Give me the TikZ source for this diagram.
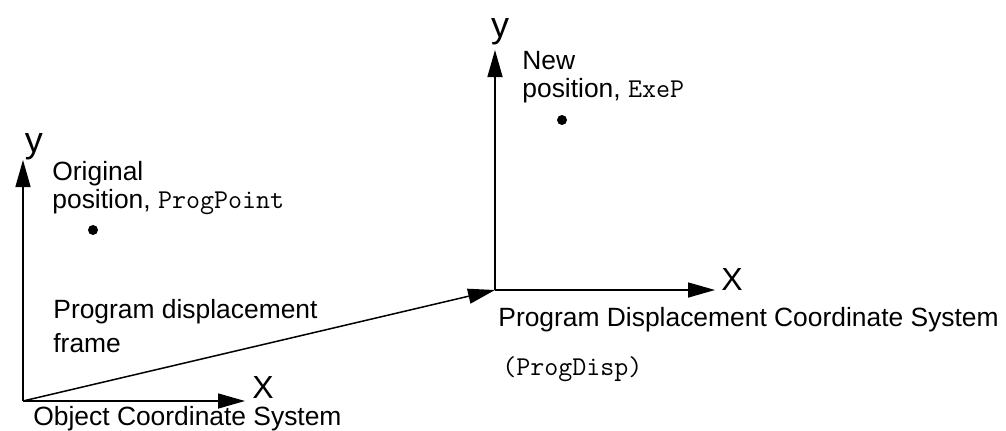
\documentclass[tikz,border=0pt]{standalone}
\usepackage{fontspec}
\setmainfont{Liberation Sans}
\usepackage{tikz}
\usetikzlibrary{arrows.meta, positioning}

\newcommand{\code}[1]{{\fontsize{13.6}{14}\ttfamily #1}}

\tikzset{
  axis/.style={-{Triangle[length=13.5pt,width=7.5pt]}, line width=0.75pt, black},
  txt/.style={inner sep=0pt, font=\fontsize{13.2}{14}\selectfont, align=left},
  axlabelx/.style={inner sep=0pt, font=\fontsize{16}{18}\selectfont},
  axlabely/.style={inner sep=0pt, font=\fontsize{18}{20}\selectfont},
  dotmark/.style={circle, fill=black, inner sep=0pt, minimum size=5pt},
}

\begin{document}
\begin{tikzpicture}[x=0.5pt, y=0.5pt]

		\useasboundingbox (0,0) rectangle (1006,430);

		%% Object coordinate system
		\coordinate (o1) at (23,29);
		\coordinate (x1) at (245,29);
		\coordinate (y1) at (23,270);

		%% Program displacement coordinate system
		\coordinate (o2) at (495,140);
		\coordinate (x2) at (715,140);
		\coordinate (y2) at (495,380);

		%% Axes and displacement
		\foreach \from/\to in {o1/x1, o1/y1, o2/x2, o2/y2, o1/o2}
		\draw[axis] (\from) -- (\to);

		%% Axis letters
		\node[axlabelx, anchor=base] (x1lbl) at (263,32)  {X};
		\node[axlabely, anchor=base] (y1lbl) at (34,278)  {y};
		\node[axlabelx, anchor=base] (x2lbl) at (732,140) {X};
		\node[axlabely, anchor=base] (y2lbl) at (500,393) {y};

		%% Points
		\node[dotmark] (pt1) at (93,200) {};
		\node[dotmark] (pt2) at (562,310) {};

		%% Texts (base = last line)
		\node[txt, anchor=base west] (orig) at (52,222)
		{Original\\position, \code{ProgPoint}};
		\node[txt, anchor=base west] (new) at (522,333)
		{New\\position, \code{ExeP}};
		\node[txt, anchor=base west] (frame) at (53,78)
		{Program displacement\\[3pt]frame};
		\node[txt, anchor=base west] (objcs) at (33,5)
		{Object Coordinate System};
		\node[txt, anchor=base west] (pdcs) at (498,104)
		{Program Displacement Coordinate System};
		\node[txt, anchor=base west] (pdname) at (502,55)
		{\code{(ProgDisp)}};

	\end{tikzpicture}
\end{document}
